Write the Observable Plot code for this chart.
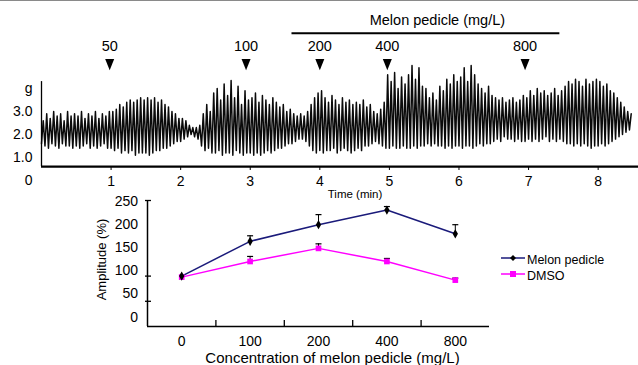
<!DOCTYPE html>
<html><head><meta charset="utf-8">
<script src="https://cdn.jsdelivr.net/npm/d3@7"></script>
<script src="https://cdn.jsdelivr.net/npm/@observablehq/plot@0.6"></script>
<style>
html,body{margin:0;padding:0;background:#fff;}
#wrap{position:relative;width:638px;height:365px;overflow:hidden;font-family:"Liberation Sans",Arial,sans-serif;}
#topline{position:absolute;left:0;top:0;width:638px;height:1px;background:#8a8a8a;}
#top,#bottom{position:absolute;left:0;}
#top{top:0;} #bottom{top:185px;}
.lg{position:absolute;font-size:12.5px;color:#000;white-space:nowrap;}
.lg svg{position:absolute;left:0;top:0;}
.lg span{position:absolute;left:26px;top:-1px;}
</style></head><body>
<div id="wrap"><div id="topline"></div><div id="top"></div><div id="bottom"></div><div id="legend"></div></div>
<script>
// ---------- Top panel: contraction recording (g) ----------
const cycleMinutes = 0.05;            // one contraction cycle per sample
const tracePeaks = [
  2.6,2.9,2.7,3.0,2.8,2.9,2.6,3.0,2.8,2.9,
  2.8,3.0,2.7,2.9,2.8,3.0,2.7,2.9,2.8,3.0,
  3.0,3.1,3.3,3.2,3.4,3.5,3.4,3.5,3.6,3.5,
  3.6,3.5,3.6,3.4,3.5,3.3,3.2,3.0,2.9,2.7,
  2.7,2.6,2.4,2.3,2.3,2.4,2.9,3.3,3.0,3.8,
  4.0,3.5,4.2,3.7,4.35,3.6,4.1,3.3,3.9,3.5,
  3.6,3.8,3.4,3.7,3.5,3.3,3.6,3.4,3.2,3.3,
  3.0,3.1,2.9,2.8,2.9,2.8,3.0,3.3,3.6,3.8,
  3.9,3.6,3.4,3.7,3.5,3.3,3.6,3.4,3.5,3.3,
  3.4,3.3,3.5,3.2,3.3,3.0,2.9,3.1,3.4,4.6,
  4.3,4.7,4.0,4.5,4.2,4.6,5.0,4.4,4.9,4.1,
  4.0,3.6,3.8,3.5,4.1,3.9,4.4,4.2,4.6,4.3,
  4.5,4.9,4.3,5.0,4.6,4.2,4.0,3.8,4.1,3.7,
  3.6,3.5,3.6,3.4,3.5,3.6,3.4,3.5,3.7,3.6,
  3.9,3.7,4.0,3.8,3.9,3.7,3.8,4.0,3.7,3.9,
  4.1,4.3,4.2,4.4,4.3,4.1,4.4,4.2,4.3,4.4,
  4.3,4.1,4.2,3.9,3.8,3.6,3.4,3.2,3.0,2.9
];
const traceTroughs = [
  1.6,1.5,1.4,1.6,1.5,1.4,1.6,1.5,1.5,1.4,
  1.5,1.4,1.5,1.6,1.4,1.5,1.4,1.5,1.6,1.4,
  1.4,1.3,1.4,1.2,1.3,1.2,1.3,1.1,1.2,1.2,
  1.2,1.1,1.2,1.3,1.3,1.4,1.4,1.5,1.6,1.7,
  1.7,1.8,1.9,2.0,1.9,1.8,1.5,1.3,1.4,1.2,
  1.2,1.3,1.1,1.2,1.2,1.1,1.3,1.2,1.1,1.2,
  1.2,1.1,1.2,1.1,1.2,1.3,1.2,1.3,1.4,1.4,
  1.5,1.6,1.6,1.7,1.8,1.8,1.7,1.5,1.3,1.2,
  1.3,1.2,1.3,1.3,1.4,1.2,1.3,1.4,1.3,1.2,
  1.3,1.4,1.3,1.5,1.5,1.6,1.7,1.6,1.5,1.4,
  1.4,1.5,1.4,1.4,1.5,1.4,1.4,1.5,1.4,1.5,
  1.5,1.6,1.5,1.6,1.5,1.5,1.4,1.5,1.4,1.5,
  1.5,1.4,1.5,1.5,1.4,1.5,1.6,1.5,1.6,1.6,
  1.7,1.8,1.7,1.9,1.8,1.8,1.7,1.8,1.7,1.7,
  1.8,1.7,1.8,1.7,1.8,1.9,1.7,1.8,1.7,1.8,
  1.7,1.6,1.6,1.5,1.6,1.5,1.6,1.5,1.4,1.5,
  1.5,1.6,1.5,1.6,1.7,1.8,1.9,2.0,2.1,2.2
];
const timeTicks = [1,2,3,4,5,6,7,8];
const gTicks = [0,1,2,3,4];
const gTickLabels = ["0","1.0","2.0","3.0","g"];
const doseTimes = [0.98, 2.94, 4.0, 4.97, 6.95];
const doseLabels = ["50","100","200","400","800"];
const bracketTitle = "Melon pedicle (mg/L)";
const timeTitle = "Time (min)";

// ---------- Bottom panel: amplitude (%) ----------
const concentrations = ["0","100","200","400","800"];
const melonMean = [100, 169, 202, 231, 184];
const melonErr  = [0, 11, 20, 7, 18];
const dmsoMean  = [98, 129, 155, 129, 92];
const dmsoErr   = [0, 10, 9, 6, 4];
const amplitudeLabels = [0,50,100,150,200,250];
const amplitudeTickMarks = [50,100,250];
const seriesNames = ["Melon pedicle","DMSO"];
const seriesColors = ["#1a1a7a","#ff00ff"];
const xTitle = "Concentration of melon pedicle (mg/L)";
const yTitle = "Amplitude (%)";

// ---------- build ----------
const font = "Liberation Sans, Arial, sans-serif";
const tracePoints = [];
tracePeaks.forEach((p, i) => {
  tracePoints.push({t: i * cycleMinutes, g: traceTroughs[i]});
  tracePoints.push({t: (i + 0.5) * cycleMinutes, g: p});
});
const doses = doseTimes.map((t, i) => ({t, label: doseLabels[i]}));

const downTriangle = {draw(ctx, size) {
  const k = Math.sqrt(size / Math.PI);
  ctx.moveTo(-k, -1.25 * k); ctx.lineTo(k, -1.25 * k); ctx.lineTo(0, 1.25 * k); ctx.closePath();
}};
const capSymbol = {draw(ctx, size) {
  const k = Math.sqrt(size / Math.PI);
  ctx.moveTo(-k, 0); ctx.lineTo(k, 0);
}};

const axisBase = 0.6, arrowLevel = 5.04, doseLabelLevel = 5.85, bracketLevel = 6.4, bracketTitleLevel = 6.95;
const bracketStart = 3.6, bracketEnd = 7.45, bracketTitleX = 5.69;

const topPlot = Plot.plot({
  width: 638, height: 198,
  marginLeft: 41, marginRight: 0, marginTop: 0, marginBottom: 32,
  style: {background: "transparent", fontFamily: font, fontSize: "14px", color: "#000", overflow: "visible"},
  x: {domain: [0, 8.58], label: null},
  y: {domain: [0, 4], range: [180, 88], label: null},
  marks: [
    Plot.line(tracePoints, {x: "t", y: "g", stroke: "#0a0a0a", strokeWidth: 1.5}),
    Plot.ruleY([axisBase], {stroke: "#000", strokeWidth: 2.2}),
    Plot.ruleX([0], {y1: axisBase, y2: 4.3, stroke: "#000", strokeWidth: 1.3}),
    Plot.axisX({ticks: timeTicks, tickSize: 4, tickPadding: 6, tickFormat: d => String(d), label: null}),
    Plot.axisY({ticks: gTicks, tickSize: 0, tickPadding: 9, tickFormat: d => gTickLabels[gTicks.indexOf(d)], label: null}),
    Plot.dot(doses, {x: "t", y: () => arrowLevel, symbol: downTriangle, r: 4.5, fill: "#000", stroke: "none"}),
    Plot.text(doses, {x: "t", y: () => doseLabelLevel, text: "label", fontSize: 14.5}),
    Plot.ruleY([bracketLevel], {x1: bracketStart, x2: bracketEnd, stroke: "#000", strokeWidth: 2}),
    Plot.text([bracketTitle], {x: bracketTitleX, y: bracketTitleLevel, fontSize: 14.5}),
    Plot.text([timeTitle], {frameAnchor: "bottom", dx: 15, dy: 31, fontSize: 11.5})
  ]
});
document.getElementById("top").appendChild(topPlot);

const melon = concentrations.map((c, i) => ({i, v: melonMean[i], e: melonErr[i]}));
const dmso = concentrations.map((c, i) => ({i, v: dmsoMean[i], e: dmsoErr[i]}));
const boundaries = concentrations.slice(1).map((c, i) => i + 0.5);
const labelSpreadBase = 18.6, labelSpreadRatio = 0.92;

const bottomPlot = Plot.plot({
  width: 638, height: 180,
  marginLeft: 147, marginRight: 149, marginTop: 15, marginBottom: 39,
  style: {background: "transparent", fontFamily: font, fontSize: "14px", color: "#000", overflow: "visible"},
  x: {domain: [-0.5, 4.5], label: null, axis: null},
  y: {domain: [0, 250], label: null, axis: null},
  marks: [
    Plot.ruleY([0], {stroke: "#000", strokeWidth: 1.5}),
    Plot.ruleX([-0.5], {y1: 0, y2: 250, stroke: "#000", strokeWidth: 1.5}),
    Plot.tickX(boundaries, {x: d => d, insetTop: 120, stroke: "#000", strokeWidth: 1.3}),
    Plot.tickY(amplitudeTickMarks, {y: d => d, insetRight: 336, dx: -2, stroke: "#000", strokeWidth: 1.3}),
    Plot.text(amplitudeLabels, {y: v => labelSpreadBase + v * labelSpreadRatio, text: v => String(v), frameAnchor: "left", textAnchor: "end", dx: -9.5, fontSize: 14}),
    Plot.axisX({ticks: [0,1,2,3,4], tickSize: 0, tickPadding: 10, tickFormat: i => concentrations[i], label: null}),
    Plot.text([xTitle], {frameAnchor: "bottom", dx: 14, dy: 36, fontSize: 15}),
    Plot.text([yTitle], {frameAnchor: "left", textAnchor: "middle", lineAnchor: "middle", dx: -46, dy: -4, rotate: -90, fontSize: 13}),
    Plot.line(dmso, {x: "i", y: "v", stroke: seriesColors[1], strokeWidth: 1.5}),
    Plot.line(melon, {x: "i", y: "v", stroke: seriesColors[0], strokeWidth: 1.5}),
    Plot.ruleX(dmso.filter(d => d.e > 0), {x: "i", y1: "v", y2: d => d.v + d.e, stroke: "#000", strokeWidth: 1}),
    Plot.dot(dmso.filter(d => d.e > 0), {x: "i", y: d => d.v + d.e, symbol: capSymbol, r: 3, stroke: "#000", fill: "none", strokeWidth: 1.2}),
    Plot.ruleX(melon.filter(d => d.e > 0), {x: "i", y1: "v", y2: d => d.v + d.e, stroke: "#000", strokeWidth: 1}),
    Plot.dot(melon.filter(d => d.e > 0), {x: "i", y: d => d.v + d.e, symbol: capSymbol, r: 3, stroke: "#000", fill: "none", strokeWidth: 1.2}),
    Plot.dot(dmso, {x: "i", y: "v", symbol: "square", r: 3.2, fill: seriesColors[1], stroke: "none"}),
    Plot.dot(melon, {x: "i", y: "v", symbol: "diamond", r: 2.8, fill: "#000", stroke: "none"})
  ]
});
document.getElementById("bottom").appendChild(bottomPlot);

// legend
const legend = document.getElementById("legend");
const markerSvg = [
  '<path d="M12,1 L15,4 L12,7 L9,4 Z" fill="#000"/>',
  '<rect x="9" y="1" width="6" height="6" fill="#ff00ff"/>'
];
seriesNames.forEach((name, i) => {
  const row = document.createElement("div");
  row.className = "lg";
  row.style.left = "501px";
  row.style.top = (254 + i * 15.5) + "px";
  row.innerHTML = '<svg width="25" height="8"><line x1="0" x2="24" y1="4" y2="4" stroke="' + seriesColors[i] + '" stroke-width="1.5"/>' + markerSvg[i] + '</svg><span>' + name + '</span>';
  legend.appendChild(row);
});
</script>
</body></html>
